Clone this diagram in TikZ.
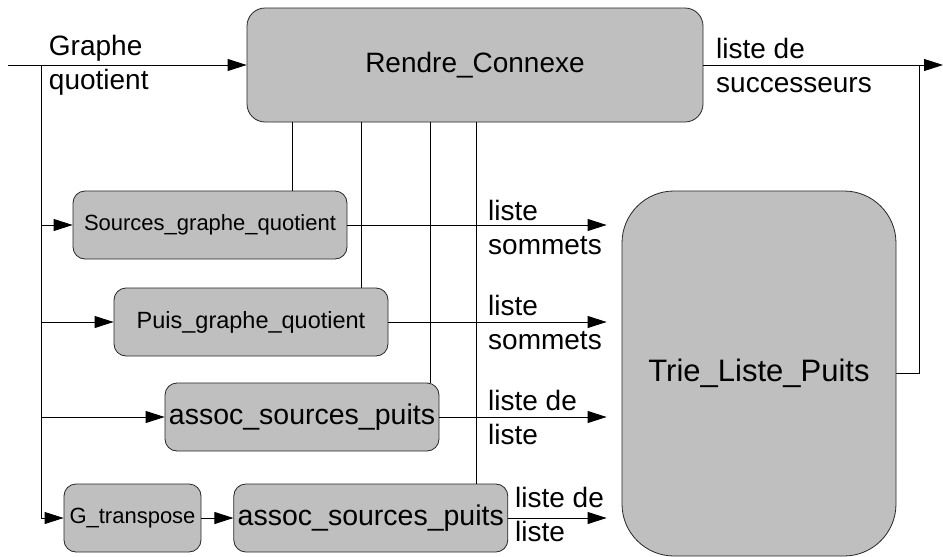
\documentclass[tikz,border=0pt]{standalone}
\usepackage{fontspec}
\setmainfont{Liberation Sans}
\usetikzlibrary{arrows.meta,positioning}

\newcommand{\fs}[1]{\fontsize{#1}{34}\selectfont}

\begin{document}
\begin{tikzpicture}[
  x=1pt, y=-1pt,
  bloc/.style={
    draw=black!85, fill=black!25, rounded corners=12pt,
    inner sep=0pt, minimum height=68pt, minimum width=274pt,
    align=center, line width=0.8pt
  },
  fl/.style={-{Triangle[length=19pt,width=12pt]}, line width=0.8pt},
  trait/.style={line width=0.8pt},
  etiq/.style={anchor=west, align=left, inner sep=0pt, font=\fs{28}},
]
\useasboundingbox (0,0) rectangle (943,557);

\node[bloc, minimum width=456pt, minimum height=114pt,
  rounded corners=18pt, font=\fs{28}] (rc) at (475,65) {Rendre\_Connexe};

\node[bloc, font=\fs{22}] (src) at (210,225) {Sources\_graphe\_quotient};
\node[bloc, font=\fs{23.5}] (pgq) at (251,322) {Puis\_graphe\_quotient};
\node[bloc, font=\fs{28.5}] (asp) at (302,417) {assoc\_sources\_puits};
\node[bloc, minimum width=137pt, font=\fs{22}] (gt) at (132.5,518) {G\_transpose};
\node[bloc, font=\fs{28.5}, right=32pt of gt] (aspt) {assoc\_sources\_puits};

\node[bloc, minimum height=365pt, rounded corners=52pt, font=\fs{31}]
  (tlp) at (759,373.5) {Trie\_Liste\_Puits};

\coordinate (ent) at (8,65);
\coordinate (tr) at (41,65);
\coordinate (ret) at (919,65);
\coordinate (sortie) at (943,65);

%% entree -> Rendre_Connexe et tronc commun
\draw[fl] (ent) -- node[etiq, pos=0.17] (lg) {Graphe\\quotient} (rc.west);
\draw[trait] (tr) -- (tr |- gt.west);
\foreach \b in {src,pgq,asp,gt}
  \draw[fl] (tr |- \b.west) -- (\b.west);
\draw[fl] (gt) -- (aspt);

%% liens Rendre_Connexe -> blocs
\foreach \b/\x in {src/292,pgq/361,asp/430,aspt/476}
  \draw[trait] (rc.south -| \x,0) -- (\b.north -| \x,0);

%% sorties vers Trie_Liste_Puits
\foreach \b in {src,pgq,asp,aspt}
  \draw[fl] (\b.east) -- ([xshift=-15pt]tlp.west |- \b.east);

\node[etiq] (l1) at (488,227) {liste\\sommets};
\node[etiq] (l2) at (488,322) {liste\\sommets};
\node[etiq] (l3) at (488,417) {liste de\\liste};
\node[etiq] (l4) at (515,514) {liste de\\liste};

%% sortie globale
\draw[trait] (tlp.east) -| (ret);
\draw[fl] (rc.east) -- (sortie);
\node[etiq] (ls) at (716,65) {liste de\\successeurs};
\end{tikzpicture}
\end{document}
